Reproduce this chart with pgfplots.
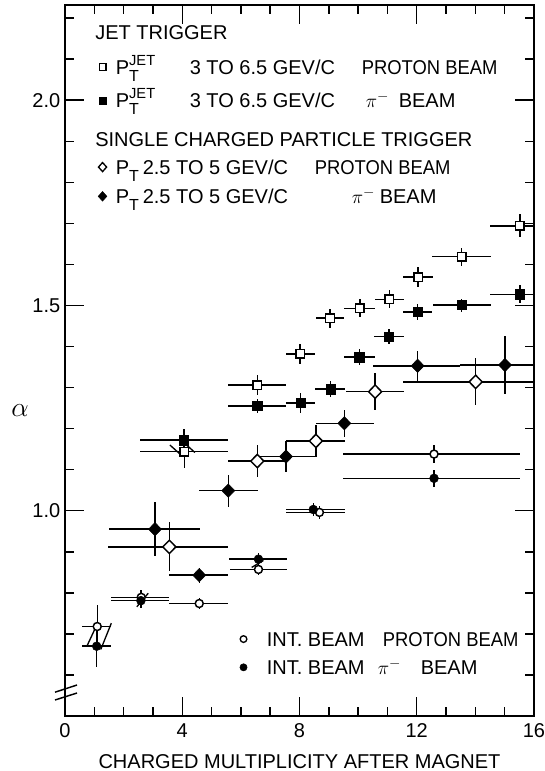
\documentclass[border=0pt]{standalone}
\usepackage{fontspec}
\setmainfont{Liberation Sans}
\usepackage{graphicx}
\usepackage{pgfplots}
\pgfplotsset{compat=1.18}
\usepackage{pgfplotstable}

\newdimen\px \px=0.75pt
\newcommand{\st}[1]{\rule{0pt}{#1}}
\newcommand{\PTJ}{P\rlap{\raisebox{-5.5pt}{\fontsize{12}{12}\selectfont T}}\raisebox{6.5pt}{\fontsize{11}{11}\selectfont JET}}
\newcommand{\PT}{P\raisebox{-5.5pt}{\fontsize{12}{12}\selectfont T}}
\newcommand{\pim}{$\pi^{-}$}
\newcommand{\PB}{\scalebox{0.92}[1]{PROTON BEAM}}

\pgfplotstableread{
x y xm xp ey
4.07 1.144 1.51 1.48 0.040
6.56 1.306 1.01 0.98 0.024
8.02 1.382 0.48 0.51 0.025
9.04 1.469 0.49 0.49 0.023
10.06 1.493 0.53 0.52 0.022
11.07 1.515 0.49 0.49 0.022
12.05 1.569 0.51 0.52 0.024
13.53 1.619 1.00 1.00 0.022
15.52 1.694 1.02 0.48 0.028
}\jetp
\pgfplotstableread{
x y xm xp ey
4.06 1.172 1.50 1.49 0.028
6.56 1.255 1.01 0.98 0.018
8.04 1.263 0.50 0.49 0.024
9.06 1.296 0.53 0.50 0.020
10.04 1.374 0.51 0.53 0.020
11.05 1.424 0.50 0.50 0.018
12.03 1.484 0.50 0.50 0.019
13.53 1.501 0.96 1.02 0.016
15.52 1.527 1.02 0.48 0.022
}\jetpi
\pgfplotstableread{
x y xm xp ey
3.56 0.912 2.08 2.01 0.060
6.56 1.121 0.99 1.00 0.038
8.56 1.170 1.02 0.99 0.040
10.58 1.290 0.99 0.99 0.045
14.01 1.314 2.49 1.99 0.057
}\sglp
\pgfplotstableread{
x y xm xp ey
3.07 0.955 1.56 1.53 0.066
4.58 0.843 1.02 0.99 0.018
5.57 1.049 0.99 1.03 0.039
7.54 1.132 0.97 1.02 0.037
9.53 1.213 0.97 1.02 0.033
12.03 1.353 1.51 1.45 0.037
15.01 1.355 1.53 0.99 0.070
}\sglpi
\pgfplotstableread{
x y xm xp ey
1.10 0.718 0.53 0.46 0.052
2.60 0.789 1.04 0.96 0.018
4.58 0.774 1.02 0.99 0.013
6.60 0.857 0.97 0.96 0.013
8.68 0.996 1.14 0.87 0.015
12.59 1.138 3.09 2.93 0.022
}\intp
\pgfplotstableread{
x y xm xp ey
1.08 0.670 0.51 0.48 0.051
2.59 0.781 1.03 0.97 0.018
6.60 0.882 1.00 0.96 0.015
8.47 1.003 0.93 1.08 0.015
12.59 1.079 3.09 2.93 0.020
}\intpi

\pgfplotsset{
  common/.style={
    at={(0,0)}, anchor=south west,
    scale only axis, width=351.75pt, height=533.25pt,
    xmin=0, xmax=16, ymin=0.5, ymax=2.232,
    clip=false,
  },
  leg/.style={legend style={draw=none, fill=none, inner sep=0pt, row sep=0pt, column sep=0pt,
    nodes={inner sep=0pt, text depth=0pt}, cells={anchor=base west},
    font=\fontsize{15}{18}\selectfont, at={#1}, anchor=north west}},
  ebars/.style={forget plot, only marks, mark=none,
    error bars/.cd, x dir=both, x explicit, y dir=both, y explicit,
    error mark=none, error bar style={line width=1.1pt, black}},
  limgA/.style={legend image code/.code={\path (-5pt,0pt) (9.75pt,0pt); \draw[##1] plot coordinates {(0pt,5.4pt)};}},
  limgB/.style={legend image code/.code={\path (-5pt,0pt) (17.25pt,0pt); \draw[##1] plot coordinates {(0pt,5.4pt)};}},
  deco/.style={forget plot, no marks, sharp plot, line width=1pt, black},
}
\newcommand{\ebplot}[1]{\addplot[ebars] table[x=x, y=y, x error minus=xm, x error plus=xp, y error=ey] {#1};}

\begin{document}
\begin{tikzpicture}
\begin{axis}[common,
  axis line style={line width=1.3pt},
  tick style={line width=1.1pt, black},
  major tick length=14pt, minor tick length=6.5pt,
  xtick={0,4,8,12,16}, xticklabels={0,4,8,12,16},
  minor x tick num=3,
  ytick={1,1.5,2}, yticklabels={1.0,1.5,2.0},
  minor ytick={0.6,0.7,0.8,0.9,1.1,1.2,1.3,1.4,1.6,1.7,1.8,1.9,2.1,2.2},
  tick label style={font=\fontsize{15}{18}\selectfont},
  xticklabel style={yshift=-2pt},
  /pgf/number format/assume math mode=true,
  xlabel={CHARGED MULTIPLICITY AFTER MAGNET},
  xlabel style={font=\fontsize{15}{18}\selectfont, yshift=-6pt},
  ylabel={$\alpha$},
  ylabel style={font=\fontsize{22}{24}\selectfont, rotate=-90, at={(rel axis cs:-0.096,0.43)}, anchor=center},
  leg={(rel axis cs:0.0647,0.92921)},
]
\ebplot{\jetp}
\ebplot{\jetpi}
% overlap strokes drawn on the original
\addplot[deco] coordinates {(3.58,1.160) (3.94,1.137)};
\addplot[deco] coordinates {(4.15,1.160) (4.43,1.142)};
\addplot[forget plot, only marks, mark=square*, mark size=3.2pt, mark options={fill=white, draw=black, line width=1.1pt}] table[x=x,y=y] {\jetp};
\addplot[forget plot, only marks, mark=square*, mark size=3.5pt, mark options={fill=black, draw=black}] table[x=x,y=y] {\jetpi};
% axis break
\draw[line width=1.1pt] (axis cs:-0.34,0.558) -- (axis cs:0.41,0.5755);
\draw[line width=1.1pt] (axis cs:-0.34,0.539) -- (axis cs:0.41,0.556);
% headings
\node[anchor=base west, inner sep=0pt, font=\fontsize{15}{18}\selectfont] at (rel axis cs:0.064,0.9508) {JET TRIGGER};
\node[anchor=base west, inner sep=0pt, font=\fontsize{15}{18}\selectfont] at (rel axis cs:0.064,0.8003) {SINGLE CHARGED PARTICLE TRIGGER};
% jet legend
\addlegendimage{limgA, only marks, mark=square*, mark size=2.5pt, mark options={fill=white, draw=black, line width=1pt}}
\addlegendentry{\makebox[74\px][l]{\PTJ}\makebox[172\px][l]{3 TO 6.5 GEV/C}\PB\st{14pt}}
\addlegendimage{limgA, only marks, mark=square*, mark size=2.7pt, mark options={fill=black, draw=black}}
\addlegendentry{\makebox[74\px][l]{\PTJ}\makebox[176\px][l]{3 TO 6.5 GEV/C}\makebox[33\px][l]{\pim}BEAM\st{24.75pt}}
\end{axis}

\begin{axis}[common, hide axis, leg={(rel axis cs:0.0647,0.78481)}]
\ebplot{\sglp}
\ebplot{\sglpi}
\addplot[forget plot, only marks, mark=diamond*, mark size=5pt, mark options={xscale=1.3, fill=white, draw=black, line width=1.1pt}] table[x=x,y=y] {\sglp};
\addplot[forget plot, only marks, mark=diamond*, mark size=5pt, mark options={xscale=1.3, fill=black, draw=black}] table[x=x,y=y] {\sglpi};
\addlegendimage{limgA, only marks, mark=diamond*, mark size=3.4pt, mark options={xscale=1.2, fill=white, draw=black, line width=1pt}}
\addlegendentry{\makebox[27\px][l]{\PT}\makebox[172\px][l]{2.5 TO 5 GEV/C}\PB\st{12pt}}
\addlegendimage{limgA, only marks, mark=diamond*, mark size=3.6pt, mark options={xscale=1.2, fill=black, draw=black}}
\addlegendentry{\makebox[27\px][l]{\PT}\makebox[209\px][l]{2.5 TO 5 GEV/C}\makebox[28\px][l]{\pim}BEAM\st{21.75pt}}
\end{axis}

\begin{axis}[common, hide axis, leg={(rel axis cs:0.3653,0.12096)}]
\ebplot{\intp}
\ebplot{\intpi}
% overlap strokes drawn on the original
\addplot[deco] coordinates {(0.74,0.669) (1.06,0.718)};
\addplot[deco] coordinates {(1.22,0.662) (1.58,0.726)};
\addplot[deco] coordinates {(2.45,0.766) (2.84,0.799)};
\addplot[deco] coordinates {(6.37,0.862) (6.77,0.879)};
\addplot[forget plot, only marks, mark=*, mark size=3pt, mark options={fill=white, draw=black, line width=1.1pt}] table[x=x,y=y] {\intp};
\addplot[forget plot, only marks, mark=*, mark size=3.3pt, mark options={fill=black, draw=black}] table[x=x,y=y] {\intpi};
\addlegendimage{limgB, only marks, mark=*, mark size=2.5pt, mark options={fill=white, draw=black, line width=1pt}}
\addlegendentry{\makebox[116\px][l]{INT. BEAM}\PB\st{12pt}}
\addlegendimage{limgB, only marks, mark=*, mark size=2.7pt, mark options={fill=black, draw=black}}
\addlegendentry{\makebox[111\px][l]{INT. BEAM}\makebox[43\px][l]{\pim}BEAM\st{21pt}}
\end{axis}
\pgfresetboundingbox
\path (-48.75pt,-41.25pt) rectangle (359.25pt,537pt);
\end{tikzpicture}
\end{document}
